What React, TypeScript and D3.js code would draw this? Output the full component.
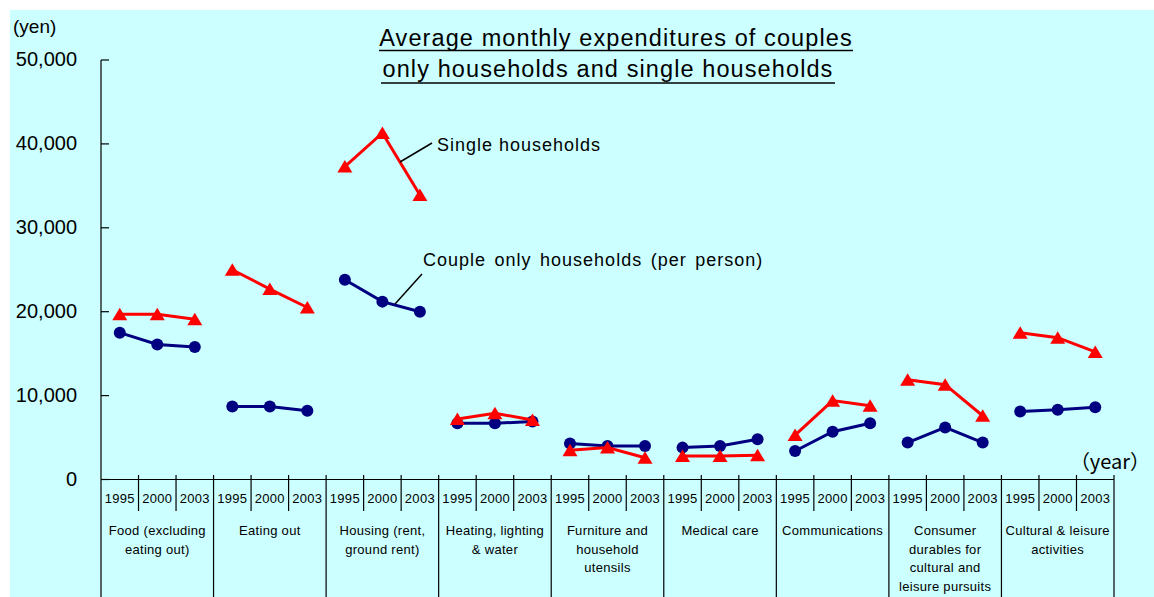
import React from "react";
import * as d3 from "d3";

const categories: string[][] = [
  ["Food (excluding", "eating out)"],
  ["Eating out"],
  ["Housing (rent,", "ground rent)"],
  ["Heating, lighting", "& water"],
  ["Furniture and", "household", "utensils"],
  ["Medical care"],
  ["Communications"],
  ["Consumer", "durables for", "cultural and", "leisure pursuits"],
  ["Cultural & leisure", "activities"],
];
const years = ["1995", "2000", "2003"];
const yTicks = [0, 10000, 20000, 30000, 40000, 50000];

const singleHouseholds: number[][] = [
  [19700, 19700, 19100],
  [25000, 22700, 20500],
  [37300, 41300, 33900],
  [7200, 7900, 7100],
  [3500, 3800, 2600],
  [2800, 2800, 2900],
  [5300, 9400, 8800],
  [11900, 11300, 7600],
  [17500, 16900, 15200],
];
const coupleHouseholds: number[][] = [
  [17500, 16100, 15800],
  [8700, 8700, 8200],
  [23800, 21200, 20000],
  [6700, 6700, 6900],
  [4300, 4000, 4000],
  [3800, 4000, 4800],
  [3400, 5700, 6700],
  [4400, 6200, 4400],
  [8100, 8300, 8600],
];

const W = 1154;
const H = 597;
const X0 = 101;
const X1 = 1114;
const Y0 = 479.5;
const Y1 = 60;
const FONT = "'Liberation Sans', Arial, sans-serif";

export default function App() {
  const y = d3.scaleLinear().domain([0, 50000]).range([Y0, Y1]);
  const xg = d3
    .scaleBand<number>()
    .domain(d3.range(categories.length))
    .range([X0, X1])
    .paddingInner(0)
    .paddingOuter(0);
  const xy = d3
    .scaleBand<string>()
    .domain(years)
    .range([0, xg.bandwidth()]);
  const px = (g: number, k: number) =>
    (xg(g) as number) + (xy(years[k]) as number) + xy.bandwidth() / 2;

  const line = d3
    .line<[number, number]>()
    .x((d) => d[0])
    .y((d) => d[1]);

  const tri = (cx: number, cy: number) => {
    const p = d3.path();
    p.moveTo(cx, cy - 6.5);
    p.lineTo(cx + 7.5, cy + 6);
    p.lineTo(cx - 7.5, cy + 6);
    p.closePath();
    return p.toString();
  };

  return (
    <svg
      width={W}
      height={H}
      style={{ position: "absolute", left: 0, top: 0 }}
      fontFamily={FONT}
    >
      <rect x={0} y={0} width={W} height={H} fill="#fff" />
      <rect x={10} y={10} width={W - 10} height={H - 10} fill="#CCFFFF" />

      {/* Title */}
      <g fontSize={23.5} letterSpacing={1.1} textAnchor="middle" fill="#000">
        <text x={616} y={46}>Average monthly expenditures of couples</text>
        <text x={608} y={77}>only households and single households</text>
      </g>
      <line x1={379} x2={853} y1={50.5} y2={50.5} stroke="#000" strokeWidth={1.6} />
      <line x1={381} x2={835} y1={83} y2={83} stroke="#000" strokeWidth={1.6} />

      {/* y axis */}
      <text x={13} y={28} fontSize={19} dominantBaseline="middle">(yen)</text>
      <line x1={X0} x2={X0} y1={Y1} y2={H} stroke="#000" strokeWidth={1.2} />
      {yTicks.map((t) => (
        <g key={t}>
          <line x1={X0} x2={X0 + 8} y1={y(t)} y2={y(t)} stroke="#000" strokeWidth={1.2} />
          <text
            x={77}
            y={y(t) + 1}
            fontSize={20}
            textAnchor="end"
            dominantBaseline="middle"
          >
            {d3.format(",")(t)}
          </text>
        </g>
      ))}

      {/* x axis table */}
      <line x1={X0} x2={X1} y1={Y0} y2={Y0} stroke="#000" strokeWidth={1.2} />
      {categories.map((c, g) => (
        <g key={g}>
          <line
            x1={(xg(g) as number) + xg.bandwidth()}
            x2={(xg(g) as number) + xg.bandwidth()}
            y1={475}
            y2={H}
            stroke="#000"
            strokeWidth={1.2}
          />
          {years.map((yr, k) => (
            <g key={yr}>
              {k > 0 && (
                <line
                  x1={(xg(g) as number) + (xy(yr) as number)}
                  x2={(xg(g) as number) + (xy(yr) as number)}
                  y1={475}
                  y2={511}
                  stroke="#000"
                  strokeWidth={1.2}
                />
              )}
              <text
                x={px(g, k)}
                y={500}
                fontSize={13}
                letterSpacing={0.3}
                textAnchor="middle"
                dominantBaseline="middle"
              >
                {yr}
              </text>
            </g>
          ))}
          {c.map((ln, i) => (
            <text
              key={i}
              x={(xg(g) as number) + xg.bandwidth() / 2}
              y={532 + i * 18.5}
              fontSize={13}
              letterSpacing={0.3}
              textAnchor="middle"
              dominantBaseline="middle"
            >
              {ln}
            </text>
          ))}
        </g>
      ))}
      <text x={1150} y={464} fontSize={20} textAnchor="end" dominantBaseline="middle"
        fontFamily="'Noto Sans CJK JP', 'Liberation Sans', sans-serif">
        （year）
      </text>

      {/* series */}
      {coupleHouseholds.map((vals, g) => (
        <g key={"c" + g}>
          <path
            d={line(vals.map((v, k) => [px(g, k), y(v)] as [number, number])) as string}
            fill="none"
            stroke="#000080"
            strokeWidth={3}
          />
          {vals.map((v, k) => (
            <circle key={k} cx={px(g, k)} cy={y(v)} r={6} fill="#000080" />
          ))}
        </g>
      ))}
      {singleHouseholds.map((vals, g) => (
        <g key={"s" + g}>
          <path
            d={line(vals.map((v, k) => [px(g, k), y(v)] as [number, number])) as string}
            fill="none"
            stroke="#FF0000"
            strokeWidth={3}
          />
          {vals.map((v, k) => (
            <path key={k} d={tri(px(g, k), y(v))} fill="#FF0000" />
          ))}
        </g>
      ))}

      {/* annotations */}
      <line x1={432} y1={143} x2={400} y2={162} stroke="#000" strokeWidth={1.5} />
      <text x={437} y={146} fontSize={18} letterSpacing={1} dominantBaseline="middle">
        Single households
      </text>
      <line x1={422} y1={274} x2={395} y2={304} stroke="#000" strokeWidth={1.5} />
      <text x={423} y={261} fontSize={18} letterSpacing={1} wordSpacing={2.5} dominantBaseline="middle">
        Couple only households (per person)
      </text>
    </svg>
  );
}
